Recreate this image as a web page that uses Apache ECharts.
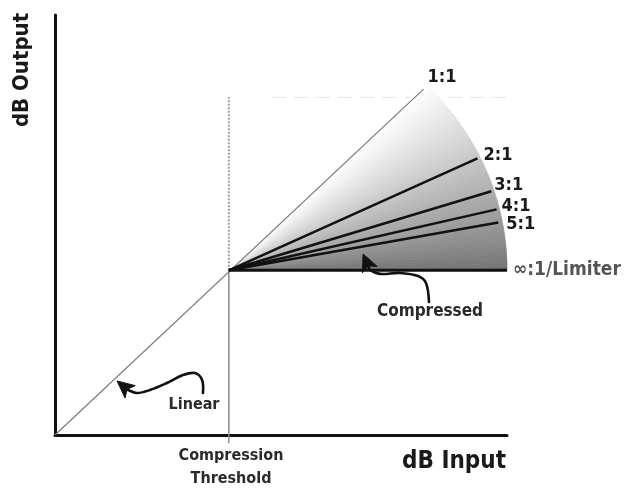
<!DOCTYPE html>
<html>
<head>
<meta charset="utf-8">
<script src="https://cdn.jsdelivr.net/npm/echarts@6/dist/echarts.min.js"></script>
<style>
html,body{margin:0;padding:0;background:#fff;}
#chart{width:629px;height:493px;}
</style>
</head>
<body>
<div id="chart"></div>
<script>
// ---- data ----
const ratioLabels = ['1:1', '2:1', '3:1', '4:1', '5:1', '∞:1/Limiter'];
const thresholdInput = 10;
const thresholdOutput = 10;
const endInput  = [21.2, 24.3, 25.1, 25.4, 25.5, 26.0];
const endOutput = [21.0, 16.8, 14.8, 13.7, 12.9, 10.0];
const fanRadius = 16;
const guideTop = 20.5;
const guideLeft = 12.5;
const guideRight = 27.9;
const axisMaxInput = 26;
const axisMaxOutput = 25.5;
const linearArrowX = [8.51, 8.46, 8.05, 7.36, 6.44, 5.46, 4.72, 4.20, 3.57];
const linearArrowY = [2.55, 3.34, 3.76, 3.64, 3.16, 2.73, 2.55, 2.73, 3.28];
const compArrowX = [21.51, 21.34, 20.88, 19.84, 18.69, 18.12, 17.72];
const compArrowY = [8.08, 9.23, 9.65, 9.84, 9.78, 10.02, 10.99];

const FONT = "'DejaVu Sans Condensed', 'Liberation Sans Narrow', sans-serif";
const labelOffsets = [[-1, -12], [1, -3], [-2, -6], [0, -3], [3, 2], [1, 0]];

const chart = echarts.init(document.getElementById('chart'));

const ratioSeries = ratioLabels.map((name, i) => {
  const start = i === 0 ? [0, 0] : [thresholdInput, thresholdOutput];
  const isInf = i === ratioLabels.length - 1;
  return {
    type: 'line',
    name: name,
    data: [start, [endInput[i], endOutput[i]]],
    showSymbol: false,
    symbol: 'none',
    z: 5,
    lineStyle: {
      color: i === 0 ? '#7a7a7a' : '#111',
      width: i === 0 ? 1.2 : (isInf ? 3 : 2.5)
    },
    endLabel: {
      show: true,
      formatter: name,
      distance: 5,
      offset: labelOffsets[i],
      fontFamily: FONT,
      fontWeight: 'bold',
      fontSize: isInf ? 19 : 18,
      color: isInf ? '#555' : '#1a1a1a'
    }
  };
});

function arrowItem(xs, ys, api) {
  const pts = xs.map((x, k) => api.coord([x, ys[k]]));
  const tip = pts[pts.length - 1];
  const prev = pts[pts.length - 2];
  const dx = tip[0] - prev[0], dy = tip[1] - prev[1];
  const len = Math.sqrt(dx * dx + dy * dy) || 1;
  const ux = dx / len, uy = dy / len;
  const headL = 17, headW = 8;
  const bx = tip[0] - ux * headL, by = tip[1] - uy * headL;
  const linePts = pts.slice(0, -1).concat([[bx + ux * 3, by + uy * 3]]);
  return [
    { type: 'polyline', shape: { points: linePts, smooth: 0.35 },
      style: { stroke: '#111', lineWidth: 2.6, fill: null, lineCap: 'round' } },
    { type: 'polygon', shape: { points: [tip, [bx - uy * headW, by + ux * headW], [bx + ux * 4, by + uy * 4], [bx + uy * headW, by - ux * headW]] },
      style: { fill: '#111', stroke: '#111', lineWidth: 1 } }
  ];
}

const option = {
  animation: false,
  backgroundColor: '#fff',
  grid: { left: 55, right: 122, top: 15, bottom: 58 },
  xAxis: {
    type: 'value', min: 0, max: axisMaxInput,
    axisLine: { show: true, lineStyle: { color: '#111', width: 3 } },
    axisTick: { show: false }, axisLabel: { show: false }, splitLine: { show: false }
  },
  yAxis: {
    type: 'value', min: 0, max: axisMaxOutput,
    axisLine: { show: true, lineStyle: { color: '#111', width: 3 } },
    axisTick: { show: false }, axisLabel: { show: false }, splitLine: { show: false }
  },
  graphic: [
    { type: 'text', x: 22, y: 70, rotation: Math.PI / 2,
      style: { text: 'dB Output', font: "bold 22px " + FONT, fill: '#1a1a1a', align: 'center', verticalAlign: 'middle' } },
    { type: 'text', x: 506, y: 462,
      style: { text: 'dB Input', font: "bold 24px " + FONT, fill: '#1a1a1a', align: 'right', verticalAlign: 'middle' } },
    { type: 'text', x: 231, y: 467,
      style: { text: 'Compression\nThreshold', font: "bold 16px " + FONT, fill: '#2a2a2a', align: 'center', verticalAlign: 'middle', lineHeight: 23 } },
    { type: 'text', x: 194, y: 405,
      style: { text: 'Linear', font: "bold 16px " + FONT, fill: '#2a2a2a', align: 'center', verticalAlign: 'middle' } },
    { type: 'text', x: 430, y: 312,
      style: { text: 'Compressed', font: "bold 17px " + FONT, fill: '#2a2a2a', align: 'center', verticalAlign: 'middle' } }
  ],
  series: [
    {
      type: 'custom',
      name: 'fan',
      z: 1,
      silent: true,
      data: [[thresholdInput, thresholdOutput]],
      renderItem: function (params, api) {
        const c = api.coord([thresholdInput, thresholdOutput]);
        const N = 90;
        const children = [];
        for (let k = 0; k < N; k++) {
          const a0 = (Math.PI / 4) * k / N;
          const a1 = (Math.PI / 4) * (k + 1) / N;
          const p0 = api.coord([thresholdInput + fanRadius * Math.cos(a0), thresholdOutput + fanRadius * Math.sin(a0)]);
          const p1 = api.coord([thresholdInput + fanRadius * Math.cos(a1), thresholdOutput + fanRadius * Math.sin(a1)]);
          const t = (k + 0.5) / N;
          const g = Math.round(0x72 + (0xff - 0x72) * Math.pow(t, 0.9));
          const col = 'rgb(' + g + ',' + g + ',' + g + ')';
          children.push({ type: 'polygon', shape: { points: [c, p0, p1] },
            style: { fill: col, stroke: col, lineWidth: 0.8 } });
        }
        return { type: 'group', children: children };
      }
    },
    {
      type: 'line', name: 'threshold-below', clip: false, z: 2,
      data: [[thresholdInput, -0.5], [thresholdInput, thresholdOutput]],
      symbol: 'none', lineStyle: { color: '#8a8a8a', width: 1.5 }
    },
    {
      type: 'line', name: 'threshold-above', clip: false, z: 2,
      data: [[thresholdInput, thresholdOutput], [thresholdInput, guideTop]],
      symbol: 'none', lineStyle: { color: '#a0a0a0', width: 2, type: [2, 1.5] }
    },
    {
      type: 'line', name: 'guide-top', clip: false, z: 0,
      data: [[guideLeft, guideTop], [guideRight, guideTop]],
      symbol: 'none', lineStyle: { color: '#e2e2e2', width: 1, type: [14, 8] }
    }
  ].concat(ratioSeries).concat([
    {
      type: 'custom', name: 'arrows', z: 10, silent: true,
      data: [[0, 0], [1, 1]],
      renderItem: function (params, api) {
        const kids = params.dataIndex === 0
          ? arrowItem(linearArrowX, linearArrowY, api)
          : arrowItem(compArrowX, compArrowY, api);
        return { type: 'group', children: kids };
      }
    }
  ])
};

chart.setOption(option);
</script>
</body>
</html>
